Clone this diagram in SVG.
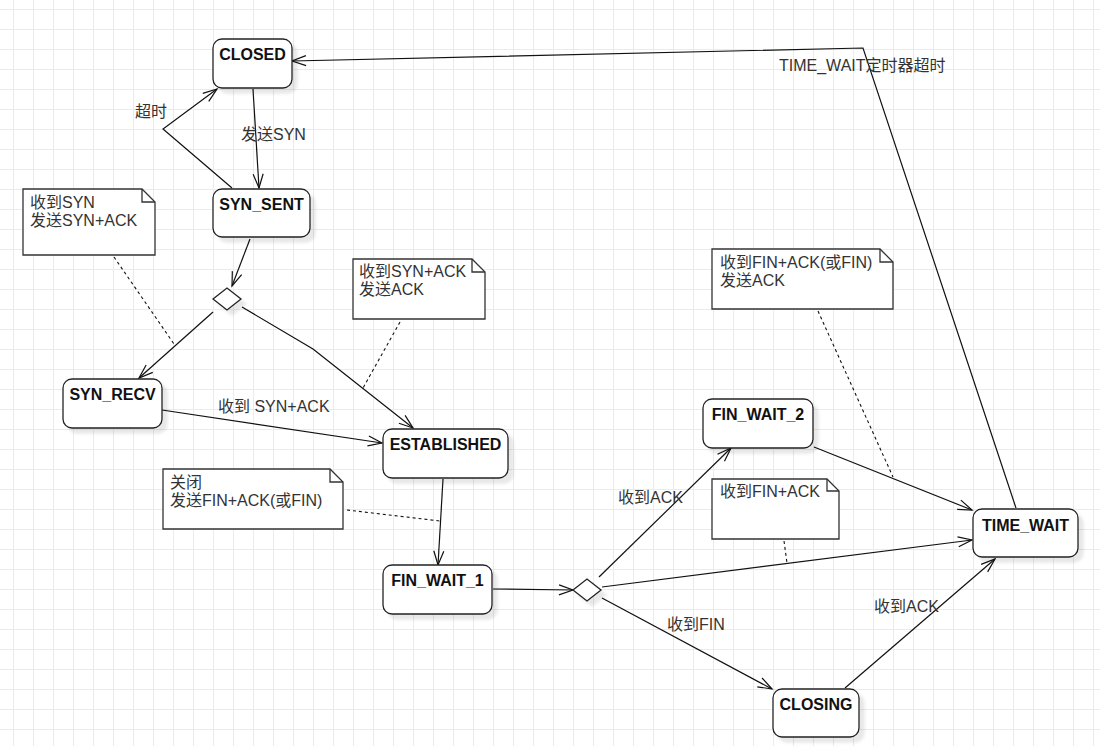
<svg xmlns="http://www.w3.org/2000/svg" width="1100" height="746" viewBox="0 0 1100 746">
<style>
.st{fill:#fff;stroke:#222;stroke-width:1.3}
.nt{fill:#fff;stroke:#333;stroke-width:1.3}
.fold{fill:none;stroke:#333;stroke-width:1.3}
.dm{fill:#fff;stroke:#222;stroke-width:1.3}
.lbl{font-family:"Liberation Sans","Noto Sans CJK SC",sans-serif;font-size:16px;fill:#111;font-weight:bold;text-anchor:middle}
.txt{font-family:"Liberation Sans","Noto Sans CJK SC",sans-serif;font-size:16px;fill:#333}
.edge{fill:none;stroke:#111;stroke-width:1.2}
.dash{fill:none;stroke:#111;stroke-width:1.1;stroke-dasharray:3 3}
</style>
<defs>
<pattern id="grid" patternUnits="userSpaceOnUse" x="13" y="9" width="20" height="20">
<path d="M0,0.5 H20 M0.5,0 V20" fill="none" stroke="#ebebeb" stroke-width="1"/>
</pattern>
<filter id="sh" x="-20%" y="-20%" width="150%" height="160%">
<feDropShadow dx="5" dy="5" stdDeviation="1.5" flood-color="#000" flood-opacity="0.09"/>
</filter>
<marker id="arr" markerUnits="userSpaceOnUse" markerWidth="17" markerHeight="12" refX="15" refY="6" orient="auto">
<path d="M1,1 L15,6 L1,11" fill="none" stroke="#111" stroke-width="1.2"/>
</marker>
</defs>
<rect width="1100" height="746" fill="#fff"/>
<rect width="1100" height="746" fill="url(#grid)"/>

<g id="connectors">
<path class="edge" d="M253,89 L259,188" marker-end="url(#arr)"/>
<path class="edge" d="M232,188 L163,129 L217,89" marker-end="url(#arr)"/>
<path class="edge" d="M250,239 L232,286" marker-end="url(#arr)"/>
<path class="edge" d="M213,312 L139,378" marker-end="url(#arr)"/>
<path class="edge" d="M242,307 L313,349 L413,428" marker-end="url(#arr)"/>
<path class="edge" d="M162,410 L382,443" marker-end="url(#arr)"/>
<path class="edge" d="M443,479 L438,565" marker-end="url(#arr)"/>
<path class="edge" d="M493,589 L573,590" marker-end="url(#arr)"/>
<path class="edge" d="M599,577 L731,448" marker-end="url(#arr)"/>
<path class="edge" d="M602,587 L972,540" marker-end="url(#arr)"/>
<path class="edge" d="M602,598 L772,689" marker-end="url(#arr)"/>
<path class="edge" d="M814,447 L972,510" marker-end="url(#arr)"/>
<path class="edge" d="M845,688 L995,559" marker-end="url(#arr)"/>
<path class="edge" d="M1016,508 L863,48 L292,61" marker-end="url(#arr)"/>
<path class="dash" d="M114,257 L174,344"/>
<path class="dash" d="M400,322 L363,388"/>
<path class="dash" d="M347,510 L440,521"/>
<path class="dash" d="M818,311 L893,477"/>
<path class="dash" d="M784,541 L787,563"/>
<text class="txt" x="135" y="117">超时</text>
<text class="txt" x="241" y="140">发送SYN</text>
<text class="txt" x="218" y="412">收到 SYN+ACK</text>
<text class="txt" x="618" y="503">收到ACK</text>
<text class="txt" x="667" y="630">收到FIN</text>
<text class="txt" x="874" y="612">收到ACK</text>
<text class="txt" x="779" y="71">TIME_WAIT定时器超时</text>
</g>

<g id="closed"><rect class="st" filter="url(#sh)" x="213" y="39" width="79" height="49" rx="9"/><text class="lbl" x="252.5" y="60">CLOSED</text></g>
<g id="syn_sent"><rect class="st" filter="url(#sh)" x="213" y="189" width="97" height="48" rx="9"/><text class="lbl" x="261.5" y="210">SYN_SENT</text></g>
<g id="decision1"><path class="dm" filter="url(#sh)" d="M213,299 L227,288 L241,299 L227,310 Z"/></g>
<g id="syn_recv"><rect class="st" filter="url(#sh)" x="63" y="379" width="99" height="49" rx="9"/><text class="lbl" x="112.5" y="400">SYN_RECV</text></g>
<g id="established"><rect class="st" filter="url(#sh)" x="383" y="429" width="125" height="49" rx="9"/><text class="lbl" x="445.5" y="450">ESTABLISHED</text></g>
<g id="fin_wait_1"><rect class="st" filter="url(#sh)" x="383" y="565" width="109" height="49" rx="9"/><text class="lbl" x="437.5" y="586">FIN_WAIT_1</text></g>
<g id="decision2"><path class="dm" filter="url(#sh)" d="M573,590 L587,579 L601,590 L587,601 Z"/></g>
<g id="fin_wait_2"><rect class="st" filter="url(#sh)" x="703" y="399" width="110" height="49" rx="9"/><text class="lbl" x="758" y="420">FIN_WAIT_2</text></g>
<g id="time_wait"><rect class="st" filter="url(#sh)" x="973" y="509" width="105" height="48" rx="9"/><text class="lbl" x="1025.5" y="531">TIME_WAIT</text></g>
<g id="closing"><rect class="st" filter="url(#sh)" x="773" y="689" width="86" height="48" rx="9"/><text class="lbl" x="816" y="710">CLOSING</text></g>

<g id="note_syn_recv"><path class="nt" d="M23,189 H142 L155,202 V255 H23 Z"/><path class="fold" d="M142,189 V202 H155"/><text class="txt" x="30" y="208">收到SYN</text><text class="txt" x="30" y="226">发送SYN+ACK</text></g>
<g id="note_syn_ack"><path class="nt" d="M353,259 H472 L485,272 V319 H353 Z"/><path class="fold" d="M472,259 V272 H485"/><text class="txt" x="359" y="277">收到SYN+ACK</text><text class="txt" x="359" y="295">发送ACK</text></g>
<g id="note_close"><path class="nt" d="M163,469 H330 L343,482 V529 H163 Z"/><path class="fold" d="M330,469 V482 H343"/><text class="txt" x="170" y="488">关闭</text><text class="txt" x="170" y="506">发送FIN+ACK(或FIN)</text></g>
<g id="note_fin"><path class="nt" d="M712,249 H880 L893,262 V309 H712 Z"/><path class="fold" d="M880,249 V262 H893"/><text class="txt" x="720" y="268">收到FIN+ACK(或FIN)</text><text class="txt" x="720" y="286">发送ACK</text></g>
<g id="note_finack"><path class="nt" d="M712,479 H827 L839,491 V539 H712 Z"/><path class="fold" d="M827,479 V491 H839"/><text class="txt" x="720" y="497">收到FIN+ACK</text></g>
</svg>
